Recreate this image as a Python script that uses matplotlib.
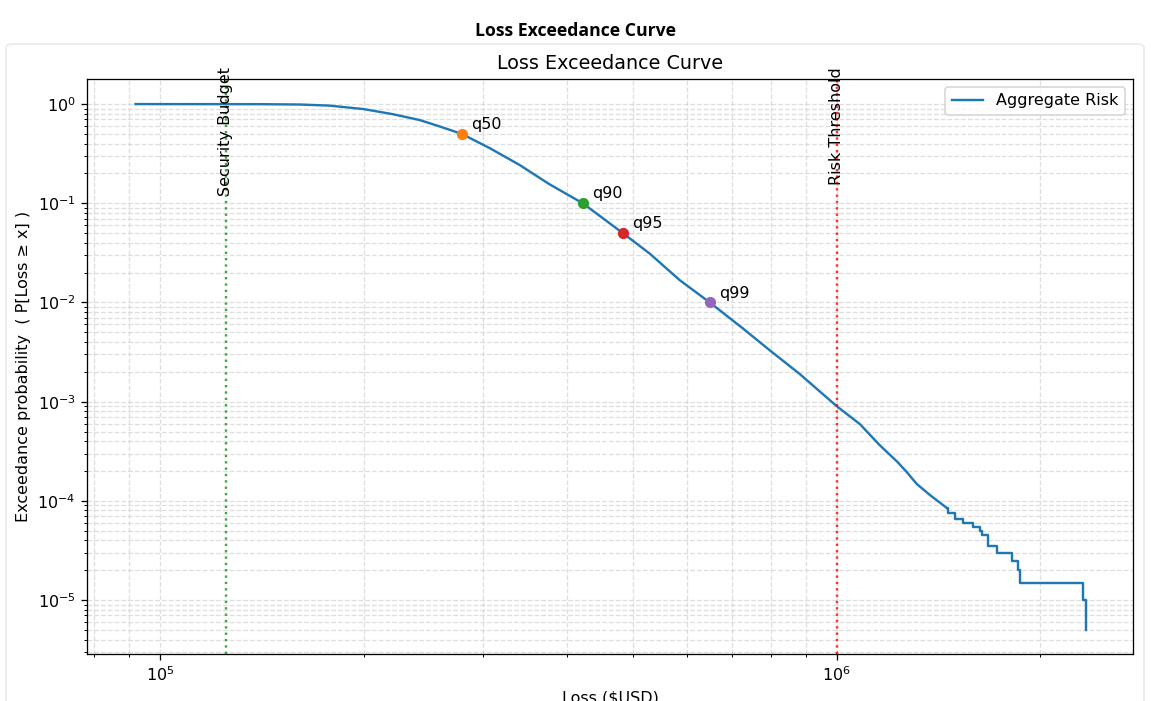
import numpy as np
import matplotlib
matplotlib.use('Agg')
import matplotlib.pyplot as plt
from matplotlib.patches import FancyBboxPatch
import matplotlib.transforms as mtransforms

# body of the exceedance curve
body_loss = [92000, 140000, 161000, 178000, 200000, 221000, 242000, 258000,
             279300, 307000, 340000, 376000, 421400, 483000, 529500, 586000,
             649200, 726000, 796000, 881700, 1000000, 1082000, 1157000,
             1230000, 1269000, 1313000, 1372000, 1454000]
body_prob = [1.0, 0.998, 0.99, 0.965, 0.89, 0.79, 0.69, 0.60,
             0.5, 0.36, 0.243, 0.156, 0.10, 0.05, 0.031, 0.0168,
             0.01, 0.0055, 0.0033, 0.0019, 9.0e-4, 5.94e-4, 3.65e-4,
             2.46e-4, 1.95e-4, 1.48e-4, 1.15e-4, 8.5e-5]

# sparse tail, drawn as steps
tail_loss = [1454000, 1459000, 1494000, 1535000, 1588000, 1627000, 1638000,
             1671000, 1723000, 1814000, 1851000, 1864000, 2308000, 2332000]
tail_prob = [8.5e-5, 7.5e-5, 6.5e-5, 6.0e-5, 5.5e-5, 5.0e-5, 4.5e-5,
             3.5e-5, 3.0e-5, 2.5e-5, 2.0e-5, 1.5e-5, 1.0e-5, 5.0e-6]

q_names = ['q50', 'q90', 'q95', 'q99']
q_loss = [279300, 421400, 483000, 649200]
q_prob = [0.5, 0.1, 0.05, 0.01]
q_colors = ['tab:orange', 'tab:green', 'tab:red', 'tab:purple']

budget = 125000
threshold = 1000000

fig = plt.figure(figsize=(1151 / 115, 701 / 115), dpi=115)
fig.patch.set_facecolor('white')

# card behind the chart
card = FancyBboxPatch((6 / 1151, -0.05), 1138 / 1151, (701 - 44) / 701 + 0.05,
                      boxstyle='round,pad=0,rounding_size=0.006',
                      transform=fig.transFigure, facecolor='white',
                      edgecolor='#ececec', linewidth=1.2, zorder=-5)
fig.patches.append(card)

fig.text(0.5, 1 - 31 / 701, 'Loss Exceedance Curve', ha='center', va='center',
         fontsize=11, fontweight='bold', family=['Open Sans', 'DejaVu Sans'])

ax = fig.add_axes([87 / 1151, 47 / 701, (1133 - 87) / 1151, (654 - 79) / 701])
ax.set_xscale('log')
ax.set_yscale('log')

line, = ax.plot(body_loss, body_prob, color='tab:blue', label='Aggregate Risk')
ax.step(tail_loss, tail_prob, where='post', color='tab:blue')

for name, x, y, c in zip(q_names, q_loss, q_prob, q_colors):
    ax.plot(x, y, 'o', color=c, zorder=3)
    ax.annotate(name, (x, y), xytext=(6, 3), textcoords='offset points')

trans = mtransforms.blended_transform_factory(ax.transData, ax.transAxes)
ax.axvline(budget, color='tab:green', linestyle=':', alpha=0.9)
ax.text(budget, 1.02, 'Security Budget', rotation=90, ha='center', va='top',
        transform=trans)
ax.axvline(threshold, color='red', linestyle=':', alpha=0.8)
ax.text(threshold, 1.02, 'Risk Threshold', rotation=90, ha='center', va='top',
        transform=trans)

ax.set_xlim(78000, 2.74e6)
ax.set_ylim(2.86e-6, 1.79)
ax.grid(True, which='both', linestyle='--', color='#d0d0d0', alpha=0.7)
ax.set_title('Loss Exceedance Curve')
ax.set_xlabel('Loss ($USD)')
ax.set_ylabel('Exceedance probability  ( P[Loss ≥ x] )')
ax.legend(handles=[line], loc='upper right')

fig.savefig('out.png', dpi=115, facecolor='white')
